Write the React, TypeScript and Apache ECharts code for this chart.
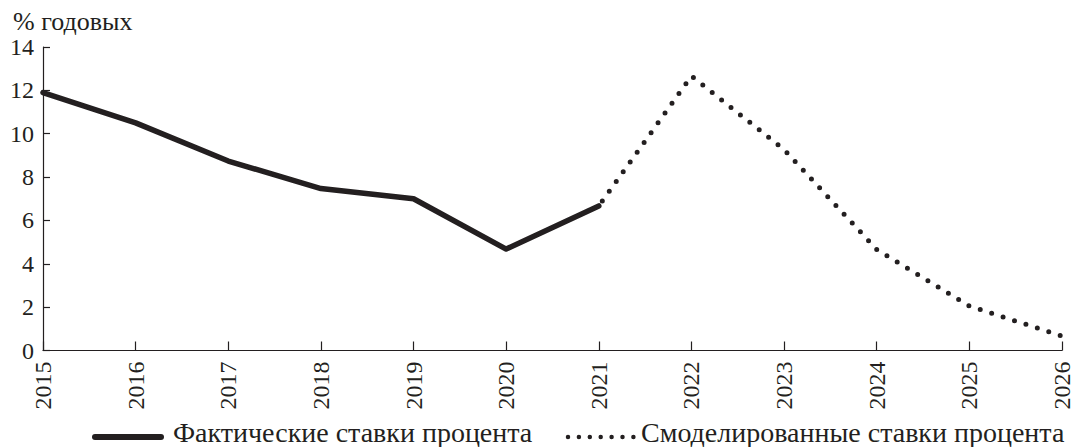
import React, { useEffect, useRef } from "react";
import * as echarts from "echarts";

const years = ["2015","2016","2017","2018","2019","2020","2021","2022","2023","2024","2025","2026"];
const actual = [11.9, 10.5, 8.74, 7.47, 7.0, 4.68, 6.67, null, null, null, null, null];
const modeled = [null, null, null, null, null, null, 6.67, 12.66, 9.27, 4.66, 2.05, 0.67];
const yTicks = [0, 14, 2];
const seriesNames = ["Фактические ставки процента", "Смоделированные ставки процента"];
const unitLabel = "% годовых";

const FONT = "Liberation Serif";
const INK = "#231f20";

export default function App() {
  const ref = useRef<HTMLDivElement>(null);
  useEffect(() => {
    const chart = echarts.init(ref.current!, null, { renderer: "svg" });
    chart.setOption({
      animation: false,
      backgroundColor: "#fff",
      textStyle: { fontFamily: FONT, color: INK },
      legend: { show: false },
      graphic: [
        { type: "text", x: 13, y: 21.5, style: { text: unitLabel, fontFamily: FONT, fontSize: 26, fill: INK, verticalAlign: "middle", align: "left" } },
        { type: "line", shape: { x1: 95, y1: 437, x2: 161, y2: 437 }, style: { stroke: INK, lineWidth: 6, lineCap: "round" } },
        { type: "text", x: 173, y: 432.5, style: { text: seriesNames[0], fontFamily: FONT, fontSize: 28, fill: INK, verticalAlign: "middle", align: "left" } },
        { type: "line", shape: { x1: 568, y1: 437, x2: 634, y2: 437 }, style: { stroke: INK, lineWidth: 4.5, lineCap: "round", lineDash: [0, 10.9] } },
        { type: "text", x: 641, y: 432.5, style: { text: seriesNames[1], fontFamily: FONT, fontSize: 28, fill: INK, verticalAlign: "middle", align: "left" } },
      ],
      grid: { left: 43, right: 15, top: 47, bottom: 96.5, containLabel: false },
      xAxis: {
        type: "category",
        data: years,
        boundaryGap: false,
        axisLine: { lineStyle: { color: INK, width: 1.2 } },
        axisTick: { inside: true, length: 9, lineStyle: { color: INK, width: 1.2 }, alignWithLabel: true },
        axisLabel: { rotate: 90, fontFamily: FONT, fontSize: 24, color: INK, margin: 11 },
        splitLine: { show: false },
      },
      yAxis: {
        type: "value",
        min: yTicks[0],
        max: yTicks[1],
        interval: yTicks[2],
        axisLine: { show: true, lineStyle: { color: INK, width: 1.2 } },
        axisTick: { show: true, inside: true, length: 7, lineStyle: { color: INK, width: 1.2 } },
        axisLabel: { fontFamily: FONT, fontSize: 24, color: INK, margin: 9 },
        splitLine: { show: false },
      },
      series: [
        {
          name: seriesNames[0],
          type: "line",
          data: actual,
          symbol: "none",
          showSymbol: false,
          connectNulls: false,
          lineStyle: { color: INK, width: 5.5, cap: "round", join: "round" },
          itemStyle: { color: INK },
        },
        {
          name: seriesNames[1],
          type: "line",
          data: modeled,
          symbol: "none",
          showSymbol: false,
          lineStyle: { color: INK, width: 5, type: [0, 12], cap: "round", dashOffset: 6 },
          itemStyle: { color: INK },
        },
      ],
    });
    return () => chart.dispose();
  }, []);
  return <div ref={ref} style={{ position: "fixed", left: 0, top: 0, width: 1077, height: 447 }} />;
}
